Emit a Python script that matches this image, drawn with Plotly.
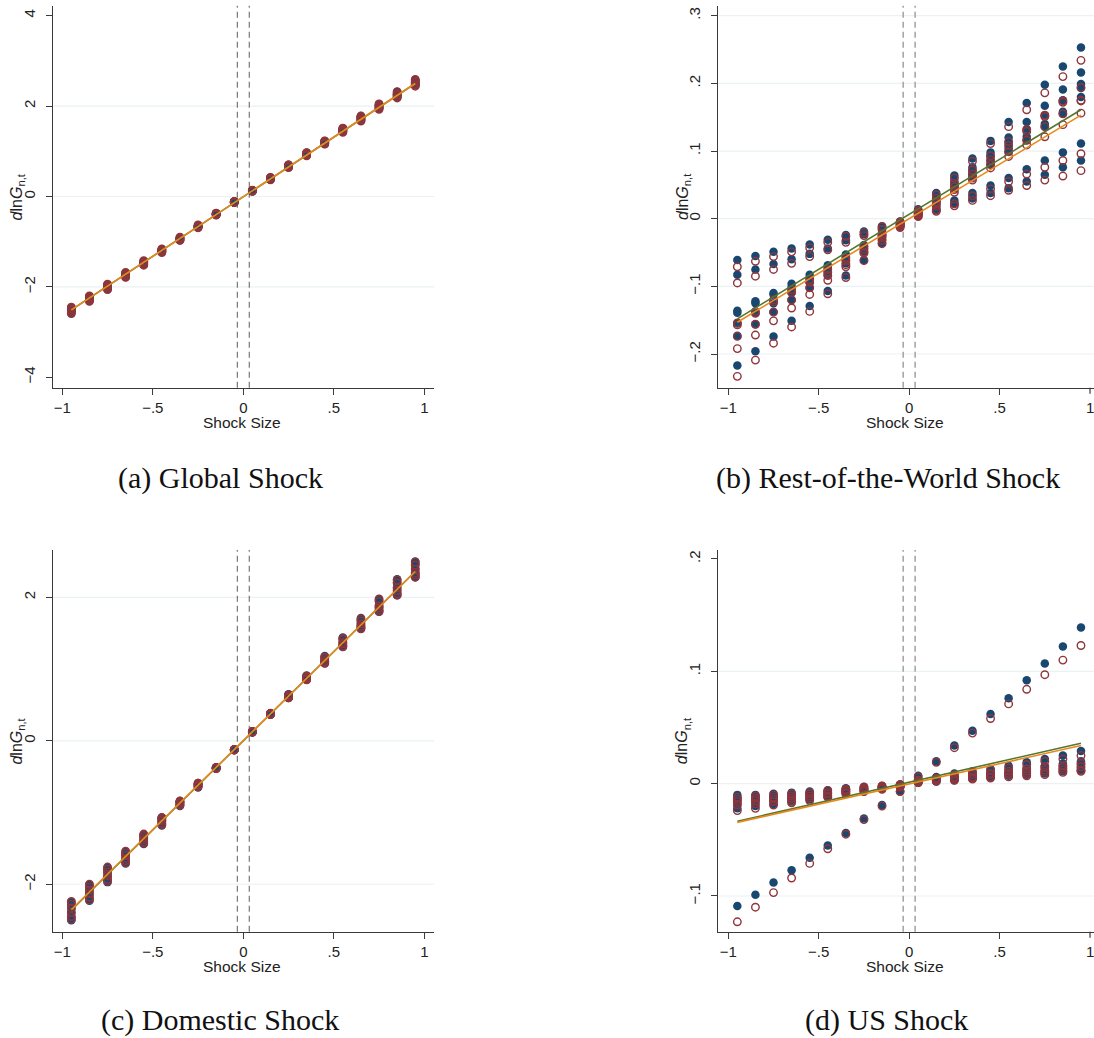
import plotly.graph_objects as go

W, H = 1094, 1038

SHOCK = [-0.95, -0.85, -0.75, -0.65, -0.55, -0.45, -0.35, -0.25, -0.15, -0.05,
         0.05, 0.15, 0.25, 0.35, 0.45, 0.55, 0.65, 0.75, 0.85, 0.95]
LINE_X = [-0.95, 0.95]

X_TICKS = [-1, -0.5, 0, 0.5, 1]
X_TICKTEXT = ["\u22121", "\u2212.5", "0", ".5", "1"]

# ---------------- (a) Global Shock ----------------
A_FILLED = [
    [-2.46, -2.49, -2.51, -2.53, -2.55, -2.58],
    [-2.21, -2.23, -2.25, -2.27, -2.29, -2.31],
    [-1.95, -1.97, -1.99, -2.01, -2.03, -2.05],
    [-1.69, -1.71, -1.72, -1.74, -1.76, -1.78],
    [-1.43, -1.45, -1.46, -1.48, -1.49, -1.51],
    [-1.17, -1.18, -1.19, -1.21, -1.22, -1.23],
    [-0.91, -0.92, -0.93, -0.95, -0.96, -0.97],
    [-0.64, -0.65, -0.66, -0.67, -0.68, -0.69],
    [-0.37, -0.38, -0.39, -0.39, -0.40, -0.41],
    [-0.11, -0.115, -0.12, -0.125, -0.13, -0.135],
    [0.115, 0.12, 0.125, 0.13, 0.135, 0.14],
    [0.38, 0.39, 0.40, 0.40, 0.41, 0.42],
    [0.65, 0.66, 0.67, 0.68, 0.69, 0.70],
    [0.91, 0.92, 0.93, 0.95, 0.96, 0.97],
    [1.16, 1.18, 1.19, 1.20, 1.21, 1.23],
    [1.43, 1.45, 1.46, 1.48, 1.49, 1.51],
    [1.68, 1.70, 1.72, 1.74, 1.76, 1.78],
    [1.94, 1.96, 1.98, 2.00, 2.02, 2.04],
    [2.19, 2.22, 2.24, 2.26, 2.28, 2.31],
    [2.46, 2.48, 2.51, 2.53, 2.56, 2.58],
]
A_HOLLOW = [
    [-2.45, -2.48, -2.50, -2.52, -2.55, -2.59],
    [-2.20, -2.22, -2.24, -2.27, -2.29, -2.32],
    [-1.94, -1.96, -1.98, -2.01, -2.03, -2.06],
    [-1.68, -1.70, -1.72, -1.74, -1.76, -1.79],
    [-1.42, -1.44, -1.46, -1.48, -1.50, -1.52],
    [-1.16, -1.18, -1.19, -1.21, -1.22, -1.24],
    [-0.90, -0.92, -0.93, -0.94, -0.96, -0.97],
    [-0.63, -0.65, -0.66, -0.67, -0.68, -0.69],
    [-0.37, -0.38, -0.38, -0.39, -0.40, -0.41],
    [-0.11, -0.115, -0.12, -0.125, -0.13, -0.135],
    [0.115, 0.12, 0.125, 0.13, 0.135, 0.14],
    [0.37, 0.38, 0.39, 0.40, 0.41, 0.42],
    [0.64, 0.65, 0.67, 0.68, 0.69, 0.70],
    [0.90, 0.92, 0.93, 0.94, 0.96, 0.97],
    [1.16, 1.17, 1.19, 1.20, 1.22, 1.23],
    [1.42, 1.44, 1.46, 1.47, 1.49, 1.51],
    [1.67, 1.69, 1.72, 1.74, 1.76, 1.78],
    [1.93, 1.95, 1.98, 2.00, 2.02, 2.05],
    [2.18, 2.21, 2.24, 2.26, 2.28, 2.32],
    [2.44, 2.47, 2.50, 2.53, 2.56, 2.59],
]
A_GREEN = [-2.51, 2.50]
A_ORANGE = [-2.51, 2.50]

# ---------------- (b) Rest-of-the-World Shock ----------------
B_FILLED = [
    [-0.061, -0.083, -0.136, -0.139, -0.155, -0.173, -0.217],
    [-0.055, -0.075, -0.122, -0.125, -0.139, -0.156, -0.196],
    [-0.049, -0.067, -0.110, -0.112, -0.125, -0.138, -0.174],
    [-0.044, -0.060, -0.096, -0.101, -0.109, -0.120, -0.151],
    [-0.038, -0.052, -0.083, -0.088, -0.094, -0.102, -0.129],
    [-0.031, -0.044, -0.069, -0.073, -0.078, -0.083, -0.107],
    [-0.024, -0.032, -0.053, -0.056, -0.061, -0.066, -0.084],
    [-0.019, -0.023, -0.039, -0.041, -0.044, -0.049, -0.061],
    [-0.011, -0.014, -0.022, -0.024, -0.026, -0.031, -0.036],
    [-0.004, -0.005, -0.007, -0.008, -0.009, -0.010, -0.012],
    [0.004, 0.006, 0.008, 0.009, 0.010, 0.012, 0.014],
    [0.038, 0.033, 0.028, 0.026, 0.022, 0.016, 0.013],
    [0.064, 0.055, 0.050, 0.048, 0.045, 0.027, 0.023],
    [0.089, 0.076, 0.070, 0.065, 0.062, 0.038, 0.030],
    [0.115, 0.098, 0.092, 0.085, 0.080, 0.049, 0.038],
    [0.143, 0.120, 0.112, 0.104, 0.099, 0.060, 0.045],
    [0.171, 0.143, 0.132, 0.121, 0.116, 0.073, 0.055],
    [0.198, 0.167, 0.153, 0.140, 0.136, 0.086, 0.065],
    [0.225, 0.191, 0.175, 0.158, 0.155, 0.098, 0.076],
    [0.253, 0.216, 0.199, 0.193, 0.180, 0.111, 0.086],
]
B_HOLLOW = [
    [-0.071, -0.095, -0.154, -0.157, -0.174, -0.192, -0.233],
    [-0.063, -0.085, -0.137, -0.140, -0.156, -0.172, -0.209],
    [-0.056, -0.075, -0.120, -0.123, -0.138, -0.151, -0.184],
    [-0.049, -0.066, -0.105, -0.109, -0.120, -0.132, -0.160],
    [-0.043, -0.056, -0.090, -0.094, -0.102, -0.112, -0.137],
    [-0.035, -0.046, -0.075, -0.079, -0.084, -0.091, -0.111],
    [-0.026, -0.035, -0.058, -0.062, -0.068, -0.071, -0.087],
    [-0.021, -0.025, -0.041, -0.045, -0.049, -0.051, -0.062],
    [-0.012, -0.016, -0.023, -0.025, -0.028, -0.032, -0.037],
    [-0.005, -0.006, -0.008, -0.009, -0.010, -0.011, -0.013],
    [0.003, 0.005, 0.007, 0.008, 0.009, 0.010, 0.012],
    [0.035, 0.030, 0.025, 0.023, 0.019, 0.013, 0.011],
    [0.060, 0.052, 0.047, 0.043, 0.039, 0.022, 0.019],
    [0.085, 0.072, 0.066, 0.060, 0.057, 0.034, 0.027],
    [0.111, 0.093, 0.087, 0.080, 0.075, 0.044, 0.034],
    [0.136, 0.114, 0.108, 0.099, 0.092, 0.055, 0.042],
    [0.161, 0.132, 0.129, 0.116, 0.109, 0.066, 0.049],
    [0.186, 0.153, 0.151, 0.136, 0.121, 0.076, 0.057],
    [0.210, 0.174, 0.172, 0.155, 0.139, 0.086, 0.063],
    [0.234, 0.194, 0.175, 0.174, 0.156, 0.096, 0.071],
]
B_GREEN = [-0.148, 0.161]
B_ORANGE = [-0.153, 0.153]

# ---------------- (c) Domestic Shock ----------------
C_FILLED = [
    [-2.25, -2.29, -2.34, -2.40, -2.46, -2.50],
    [-2.01, -2.05, -2.09, -2.14, -2.19, -2.23],
    [-1.77, -1.80, -1.84, -1.89, -1.94, -1.97],
    [-1.55, -1.58, -1.61, -1.65, -1.68, -1.71],
    [-1.31, -1.33, -1.36, -1.39, -1.42, -1.44],
    [-1.07, -1.09, -1.11, -1.13, -1.16, -1.18],
    [-0.84, -0.85, -0.86, -0.88, -0.90, -0.91],
    [-0.59, -0.60, -0.61, -0.63, -0.64, -0.65],
    [-0.37, -0.375, -0.38, -0.383, -0.386, -0.39],
    [-0.12, -0.122, -0.124, -0.126, -0.128, -0.13],
    [0.13, 0.128, 0.126, 0.124, 0.122, 0.12],
    [0.385, 0.38, 0.375, 0.372, 0.37, 0.367],
    [0.65, 0.64, 0.63, 0.62, 0.61, 0.60],
    [0.91, 0.90, 0.88, 0.87, 0.86, 0.85],
    [1.18, 1.16, 1.13, 1.11, 1.09, 1.08],
    [1.44, 1.42, 1.38, 1.35, 1.33, 1.31],
    [1.71, 1.68, 1.64, 1.61, 1.58, 1.56],
    [1.98, 1.95, 1.89, 1.86, 1.82, 1.80],
    [2.25, 2.21, 2.14, 2.10, 2.06, 2.03],
    [2.50, 2.46, 2.40, 2.35, 2.31, 2.28],
]
C_HOLLOW = [
    [-2.24, -2.28, -2.33, -2.39, -2.45, -2.49],
    [-2.00, -2.04, -2.08, -2.13, -2.18, -2.22],
    [-1.76, -1.79, -1.83, -1.88, -1.93, -1.96],
    [-1.54, -1.57, -1.60, -1.64, -1.67, -1.70],
    [-1.30, -1.32, -1.35, -1.38, -1.41, -1.43],
    [-1.07, -1.08, -1.10, -1.12, -1.15, -1.17],
    [-0.84, -0.85, -0.86, -0.87, -0.89, -0.90],
    [-0.59, -0.60, -0.61, -0.62, -0.63, -0.64],
    [-0.37, -0.374, -0.378, -0.382, -0.385, -0.388],
    [-0.12, -0.122, -0.124, -0.126, -0.128, -0.13],
    [0.129, 0.127, 0.125, 0.123, 0.121, 0.119],
    [0.383, 0.378, 0.373, 0.370, 0.368, 0.365],
    [0.64, 0.63, 0.62, 0.61, 0.60, 0.60],
    [0.90, 0.89, 0.88, 0.87, 0.86, 0.85],
    [1.17, 1.15, 1.12, 1.10, 1.09, 1.08],
    [1.43, 1.41, 1.37, 1.35, 1.32, 1.31],
    [1.70, 1.67, 1.63, 1.60, 1.58, 1.56],
    [1.97, 1.94, 1.88, 1.85, 1.82, 1.80],
    [2.24, 2.20, 2.13, 2.09, 2.05, 2.03],
    [2.49, 2.45, 2.39, 2.34, 2.31, 2.28],
]
C_GREEN = [-2.36, 2.36]
C_ORANGE = [-2.355, 2.36]

# ---------------- (d) US Shock ----------------
D_FILLED = [
    [-0.109, -0.010, -0.013, -0.015, -0.018, -0.022],
    [-0.099, -0.010, -0.012, -0.014, -0.016, -0.020],
    [-0.088, -0.009, -0.011, -0.013, -0.015, -0.018],
    [-0.077, -0.008, -0.010, -0.012, -0.014, -0.016],
    [-0.066, -0.007, -0.009, -0.010, -0.012, -0.014],
    [-0.055, -0.006, -0.007, -0.009, -0.010, -0.012],
    [-0.044, -0.004, -0.005, -0.006, -0.007, -0.009],
    [-0.031, -0.003, -0.004, -0.005, -0.006, -0.007],
    [-0.019, -0.002, -0.003, -0.003, -0.004, -0.004],
    [-0.007, -0.001, -0.001, -0.002, -0.002, -0.002],
    [0.007, 0.001, 0.002, 0.002, 0.003, 0.004],
    [0.020, 0.002, 0.003, 0.004, 0.004, 0.006],
    [0.034, 0.003, 0.004, 0.005, 0.006, 0.009],
    [0.047, 0.005, 0.006, 0.007, 0.008, 0.011],
    [0.062, 0.006, 0.007, 0.009, 0.010, 0.013],
    [0.076, 0.007, 0.009, 0.010, 0.012, 0.016],
    [0.092, 0.008, 0.010, 0.012, 0.014, 0.019],
    [0.107, 0.009, 0.011, 0.014, 0.016, 0.022],
    [0.122, 0.011, 0.013, 0.016, 0.018, 0.025],
    [0.139, 0.012, 0.014, 0.017, 0.020, 0.029],
]
D_HOLLOW = [
    [-0.123, -0.012, -0.014, -0.016, -0.019, -0.024],
    [-0.110, -0.011, -0.013, -0.015, -0.018, -0.022],
    [-0.097, -0.010, -0.012, -0.014, -0.016, -0.019],
    [-0.084, -0.009, -0.011, -0.013, -0.015, -0.017],
    [-0.071, -0.008, -0.009, -0.011, -0.013, -0.015],
    [-0.058, -0.006, -0.008, -0.009, -0.011, -0.012],
    [-0.045, -0.005, -0.006, -0.007, -0.008, -0.009],
    [-0.032, -0.003, -0.004, -0.005, -0.006, -0.007],
    [-0.020, -0.002, -0.003, -0.003, -0.004, -0.005],
    [-0.007, -0.001, -0.001, -0.002, -0.002, -0.003],
    [0.006, 0.001, 0.001, 0.002, 0.003, 0.003],
    [0.019, 0.002, 0.003, 0.003, 0.004, 0.005],
    [0.032, 0.003, 0.004, 0.005, 0.006, 0.008],
    [0.045, 0.004, 0.005, 0.006, 0.008, 0.010],
    [0.058, 0.005, 0.006, 0.008, 0.009, 0.012],
    [0.071, 0.006, 0.008, 0.009, 0.011, 0.014],
    [0.084, 0.007, 0.009, 0.011, 0.013, 0.017],
    [0.097, 0.008, 0.010, 0.012, 0.015, 0.020],
    [0.110, 0.010, 0.012, 0.014, 0.016, 0.022],
    [0.123, 0.011, 0.012, 0.015, 0.018, 0.025],
]
D_GREEN = [-0.0335, 0.036]
D_ORANGE = [-0.0345, 0.034]

CUTOFFS = [-0.033, 0.033]

PANELS = [
    dict(filled=A_FILLED, hollow=A_HOLLOW, green=A_GREEN, orange=A_ORANGE,
         yticks=[-4, -2, 0, 2, 4], yticktext=["\u22124", "\u22122", "0", "2", "4"],
         grid=[-2, 0, 2], yrange=[-4.23, 4.221], caption="(a) Global Shock",
         box=(52.7, 434.0, 5.7, 387.7), xrange=[-1.053, 1.0536], clipped_one=False,
         dash_color="#6a6a6a", dash_w=1.1, cap_x=220, cap_y=478),
    dict(filled=B_FILLED, hollow=B_HOLLOW, green=B_GREEN, orange=B_ORANGE,
         yticks=[-0.2, -0.1, 0, 0.1, 0.2, 0.3],
         yticktext=["\u2212.2", "\u2212.1", "0", ".1", ".2", ".3"],
         grid=[-0.2, -0.1, 0, 0.1, 0.2, 0.3], yrange=[-0.2498, 0.3148],
         caption="(b) Rest-of-the-World Shock",
         box=(718.3, 1094.0, 5.7, 387.7), xrange=[-1.0553, 1.022], clipped_one=True,
         dash_color="#a8a8a8", dash_w=1.6, cap_x=888, cap_y=478),
    dict(filled=C_FILLED, hollow=C_HOLLOW, green=C_GREEN, orange=C_ORANGE,
         yticks=[-2, 0, 2], yticktext=["\u22122", "0", "2"],
         grid=[-2, 0, 2], yrange=[-2.661, 2.659], caption="(c) Domestic Shock",
         box=(52.7, 434.0, 550.0, 931.7), xrange=[-1.053, 1.0536], clipped_one=False,
         dash_color="#6a6a6a", dash_w=1.1, cap_x=220, cap_y=1020),
    dict(filled=D_FILLED, hollow=D_HOLLOW, green=D_GREEN, orange=D_ORANGE,
         yticks=[-0.1, 0, 0.1, 0.2], yticktext=["\u2212.1", "0", ".1", ".2"],
         grid=[-0.1, 0, 0.1], yrange=[-0.1318, 0.208], caption="(d) US Shock",
         box=(718.3, 1094.0, 550.0, 931.7), xrange=[-1.0553, 1.022], clipped_one=True,
         dash_color="#a8a8a8", dash_w=1.6, cap_x=886, cap_y=1020),
]

NAVY = "#1a476f"
MAROON = "#90353b"
GREEN = "#55752f"
ORANGE = "#e8891d"
AXIS_C = "#3a3a3a"
GRID_C = "#eaf2f3"
SANS = "Liberation Sans, Arial, Helvetica, sans-serif"
SERIF = "Liberation Serif, Times New Roman, serif"
TICK_SIZE = 15
TICK_LEN = 6


def px_x(p):
    return p / W


def px_y(p):
    return 1 - p / H


fig = go.Figure()
shapes = []
annotations = []
layout = {}

for i, P in enumerate(PANELS, start=1):
    xa = "x" if i == 1 else f"x{i}"
    ya = "y" if i == 1 else f"y{i}"
    x0, x1, y0, y1 = P["box"]

    fx = [SHOCK[k] for k, row in enumerate(P["filled"]) for _ in row]
    fy = [v for row in P["filled"] for v in row]
    hx = [SHOCK[k] for k, row in enumerate(P["hollow"]) for _ in row]
    hy = [v for row in P["hollow"] for v in row]

    fig.add_trace(go.Scatter(x=fx, y=fy, mode="markers", xaxis=xa, yaxis=ya,
                             marker=dict(symbol="circle", size=8.5, color=NAVY,
                                         line=dict(width=0)),
                             showlegend=False, hoverinfo="skip"))
    fig.add_trace(go.Scatter(x=hx, y=hy, mode="markers", xaxis=xa, yaxis=ya,
                             marker=dict(symbol="circle-open", size=7.5, color=MAROON,
                                         line=dict(width=1.4, color=MAROON)),
                             showlegend=False, hoverinfo="skip"))
    fig.add_trace(go.Scatter(x=LINE_X, y=P["green"], mode="lines", xaxis=xa, yaxis=ya,
                             line=dict(color=GREEN, width=1.6),
                             showlegend=False, hoverinfo="skip"))
    fig.add_trace(go.Scatter(x=LINE_X, y=P["orange"], mode="lines", xaxis=xa, yaxis=ya,
                             line=dict(color=ORANGE, width=1.6),
                             showlegend=False, hoverinfo="skip"))

    axis_common = dict(showline=True, linecolor=AXIS_C, linewidth=1.3,
                       ticks="outside", ticklen=TICK_LEN, tickwidth=1.2, tickcolor=AXIS_C,
                       showgrid=False, zeroline=False, mirror=False,
                       tickfont=dict(family=SANS, size=TICK_SIZE, color="#222"))
    if P["clipped_one"]:
        xt_vals, xt_text = X_TICKS[:-1], X_TICKTEXT[:-1]
    else:
        xt_vals, xt_text = X_TICKS, X_TICKTEXT
    layout["xaxis" if i == 1 else f"xaxis{i}"] = dict(
        domain=[px_x(x0), px_x(x1)], anchor=ya, range=P["xrange"],
        tickmode="array", tickvals=xt_vals, ticktext=xt_text, **axis_common)
    layout["yaxis" if i == 1 else f"yaxis{i}"] = dict(
        domain=[px_y(y1), px_y(y0)], anchor=xa, range=P["yrange"],
        tickmode="array", tickvals=P["yticks"], ticktext=P["yticktext"],
        tickangle=-90, ticklabelstandoff=5, **axis_common)

    if P["clipped_one"]:
        # last x tick (at the right edge of the picture): mark + label
        shapes.append(dict(type="line", xref=xa, yref="paper",
                           x0=X_TICKS[-1], x1=X_TICKS[-1],
                           y0=px_y(y1), y1=px_y(y1 + TICK_LEN),
                           line=dict(color=AXIS_C, width=1.2)))
        annotations.append(dict(text=X_TICKTEXT[-1], xref=xa, yref="paper",
                                x=X_TICKS[-1], y=px_y(y1 + 9), showarrow=False,
                                xanchor="center", yanchor="top",
                                font=dict(family=SANS, size=TICK_SIZE, color="#222")))

    for g in P["grid"]:
        shapes.append(dict(type="line", xref=f"{xa} domain", yref=ya,
                           x0=0, x1=1, y0=g, y1=g, layer="below",
                           line=dict(color=GRID_C, width=1.2)))
    for c in CUTOFFS:
        shapes.append(dict(type="line", xref=xa, yref=f"{ya} domain",
                           x0=c, x1=c, y0=0, y1=1, layer="below",
                           line=dict(color=P["dash_color"], width=P["dash_w"], dash="6px,4px")))

    # axis titles
    annotations.append(dict(text="Shock Size", xref="paper", yref="paper",
                            x=px_x((x0 + x1) / 2 - 1), y=px_y(y1 + 35),
                            showarrow=False, xanchor="center", yanchor="middle",
                            font=dict(family=SANS, size=15.5, color="#222")))
    annotations.append(dict(text="<i>d</i>ln<i>G</i><sub>n,t</sub>", xref="paper", yref="paper",
                            x=px_x(x0 - 35), y=px_y((y0 + y1) / 2),
                            showarrow=False, xanchor="center", yanchor="middle",
                            textangle=-90,
                            font=dict(family=SANS, size=16, color="#222")))
    annotations.append(dict(text=P["caption"], xref="paper", yref="paper",
                            x=px_x(P["cap_x"]), y=px_y(P["cap_y"]),
                            showarrow=False, xanchor="center", yanchor="middle",
                            font=dict(family=SERIF, size=30, color="#111")))

fig.update_layout(width=W, height=H, margin=dict(l=0, r=0, t=0, b=0),
                  paper_bgcolor="white", plot_bgcolor="white",
                  shapes=shapes, annotations=annotations, **layout)

fig.write_html("out.html")
